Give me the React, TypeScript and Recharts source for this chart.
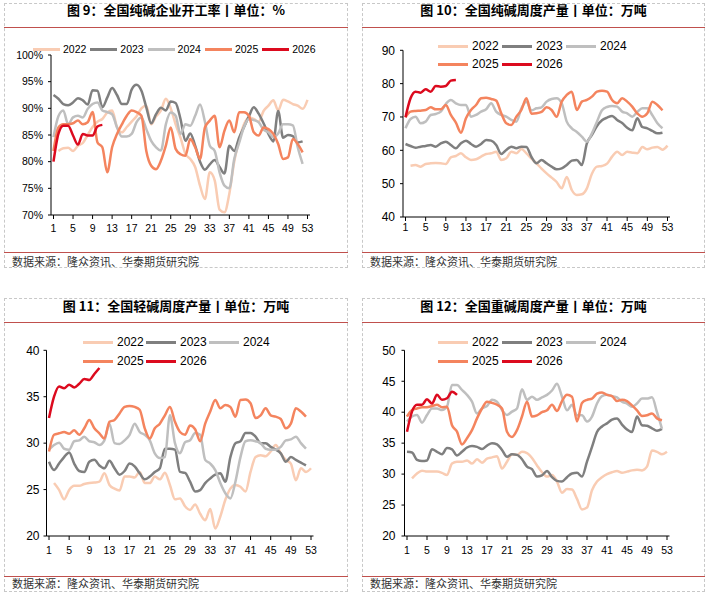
import React from 'react';
import { LineChart, Line, XAxis, YAxis } from 'recharts';

const FONT_NUM = '"Liberation Sans", Arial, sans-serif';
const FONT_CJK = '"Noto Sans CJK SC", "Noto Sans", sans-serif';

// ---------- categories ----------
const weeks = Array.from({ length: 53 }, (_, i) => i + 1);
const seriesYears = ['2022', '2023', '2024', '2025', '2026'];
const seriesColors = ['#F9CCB3', '#7F7F7F', '#BFBFBF', '#F4845E', '#DC0A1E'];

// ---------- 图9 开工率 (%) ----------
const p1_2022 = [null, 82, 82.5, 82.6, 82, 83, 83.5, 85, 86.5, 87.5, 88, 89.2, 89.6, 86.5, 85.5, 86.5, 87.5, 88.5, 90, 90.5, 87, 88.5, 89.6, 91.8, 90, 87, 84.5, 81.5, 80.5, 79, 75.5, 73, 78, 76.5, 71, 70.5, 74, 80, 84, 87, 88.3, 88, 87.5, 89.5, 90.5, 91.5, 89.6, 91.6, 91.3, 90.8, 90.5, 89.9, 91.6];
const p1_2023 = [92.5, 91.8, 90.8, 90.6, 91.1, 91.9, 91.5, 90.7, 93.4, 93.3, 90.2, 92, 93.8, 92.5, 90.8, 90.8, 93.5, 94.4, 93.3, 90.2, 87.2, 88.9, 90.1, 89.6, 91.3, 91, 88, 83.9, 85.3, 83, 80, 78.5, 79.5, 80.3, 79, 77.8, 83, 82, 84.5, 86.5, 88.5, 90.2, 89, 87.2, 85.2, 83.8, 89.5, 84.5, 85, 84.8, 83.6, 83.8];
const p1_2024 = [84.6, 88.5, 89.6, 87, 88.3, 88.6, 88.3, 89.9, 90.8, 91.1, 89.6, 89.3, 88.9, 86.4, 84.7, 84.7, 85.2, 87.4, 88.3, 86.1, 83.9, 82.7, 82.1, 87, 89.2, 88.6, 85.2, 87, 86.75, 88.6, 90.7, 87.5, 83, 82, 78, 75.5, 75, 80.5, 83.5, 86.5, 88, 87.8, 87.4, 86, 85.5, 84.6, 85.3, 87, 87, 86.8, 82.7, 79.6];
const p1_2025 = [82, 86.4, 87, 87, 87.2, 87.7, 87, 87.4, 89.3, 83.6, 82.7, 78, 82.7, 85.2, 87, 88.6, 89.6, 89.3, 88.6, 82, 79.25, 78.6, 80.2, 83, 86.4, 82.4, 81.4, 81.1, 84.25, 82.7, 80.5, 86.4, 87.7, 88.6, 82.7, 85.8, 87.7, 85.5, 89.25, 89.25, 88.6, 85.5, 84.9, 86.4, 86.1, 85.2, 83.3, 80.5, 80.8, 84.25, 83.3, 81.75];
const p1_2026 = [80, 85.2, 86.75, 86.75, 84.9, 83.2, 85.2, 84.9, 84.9, 86.6, 86.9];
const p1_ticks = [70, 75, 80, 85, 90, 95, 100];

// ---------- 图10 纯碱周度产量 (万吨) ----------
const p2_2022 = [null, 55.4, 55.6, 55.1, 55.9, 56.1, 56.2, 56.1, 55.9, 57.9, 58.3, 59.1, 57.9, 57.1, 57.3, 58.1, 58.9, 59.1, 59.6, 57.1, 57.6, 59.6, 59.1, 60.4, 59.1, 57.5, 56.1, 54.5, 53.1, 51.8, 50.5, 48.6, 52, 48.1, 46.6, 46.8, 48.6, 53, 55.1, 55.3, 56, 58.1, 59.6, 58.6, 59.6, 59.3, 59.1, 61, 60.3, 60.8, 61, 60.2, 61.4];
const p2_2023 = [61.9, 61.3, 60.8, 61.1, 61.3, 61.6, 61.1, 62.1, 62.6, 61.6, 60.6, 62.1, 62.9, 61.9, 61.1, 61.9, 63.1, 62.9, 61.6, 58.9, 60.1, 61.1, 60.6, 61.1, 61, 58, 56.1, 57.1, 56.1, 55.1, 54.3, 54.6, 55.6, 56.9, 57.1, 55.6, 62.1, 64.6, 67.3, 69, 69.8, 70.3, 69.1, 68.2, 66.8, 66, 69.6, 67, 66.6, 65.8, 65.1, 65.3];
const p2_2024 = [66.6, 69.4, 70.1, 68.1, 68.6, 70.6, 70.9, 71.6, 73.9, 75.1, 74.1, 73.6, 73.6, 70.1, 70.6, 71.6, 72.3, 74.1, 71.6, 70.6, 70.1, 69.1, 68.6, 72.6, 74.6, 72, 72.6, 72.9, 74.6, 75.4, 75.6, 74.1, 68.6, 66.6, 65.5, 64.1, 62.6, 65.1, 68.6, 72, 73, 73.3, 73.1, 71.6, 71.1, 70.1, 71.5, 72.6, 72.6, 70.5, 68.1, 66.6];
const p2_2025 = [69.9, 71.6, 71.8, 71.9, 72.1, 72.9, 72.3, 72.3, 73.6, 70.6, 68.3, 65.3, 69.6, 72.1, 73.6, 75.6, 75.8, 75.4, 74.9, 71.1, 68.1, 67.6, 70.1, 72.1, 75.6, 71, 71.1, 71.5, 72.9, 72.1, 70.1, 74.6, 76.6, 77.6, 72.1, 74.6, 75.1, 76.1, 77.6, 77.9, 77.6, 75.1, 74.1, 75.6, 74.6, 73.1, 71.1, 70.1, 71.1, 74.6, 73.6, 72];
const p2_2026 = [69.9, 75.6, 77.6, 77.3, 78.3, 77.6, 79.3, 79.1, 79.3, 80.9, 81.1];
const p2_ticks = [40, 50, 60, 70, 80, 90];

// ---------- 图11 轻碱周度产量 (万吨) ----------
const p3_2022 = [null, 25.7, 24.96, 23.95, 24.96, 25.4, 25.4, 25.6, 25.7, 25.75, 25.85, 26.75, 25.5, 25.1, 24.9, 26.4, 26.4, 26.3, 26.9, 25.7, 25.7, 26.4, 26.1, 26.8, 25.5, 23.95, 24.05, 23.2, 22.8, 23.4, 22.4, 21.7, 22.9, 20.8, 22.1, 23.9, 25.1, 25.5, 25.3, 24.8, 26.9, 28.5, 28.7, 28.6, 29.1, 29.8, 28.9, 28.2, 27.8, 26, 27.3, 26.9, 27.3];
const p3_2023 = [28, 27.1, 27.8, 28.5, 29, 27.8, 27, 26.9, 28, 28.2, 27.6, 27.3, 28.1, 27.3, 26.6, 27, 27.8, 27.5, 26.75, 26.1, 26.4, 26.9, 27.3, 29.4, 29.4, 29.3, 26.9, 26.8, 25.85, 24.8, 24.95, 25.7, 26.2, 26.6, 26.75, 25.85, 28.5, 30, 30.2, 31.1, 31.1, 30.7, 30, 30, 29.6, 29.3, 28.9, 28, 28.5, 28.2, 27.9, 27.6];
const p3_2024 = [29.3, 29.8, 30.05, 29.4, 29.3, 30.2, 30.3, 30.7, 30.2, 30.1, 29.8, 30.3, 32.1, 30, 29.9, 30.3, 30.9, 32.1, 31.2, 30.9, 30.3, 28.9, 28.4, 28.5, 33, 30, 28.9, 30.1, 30.3, 31.1, 30.9, 28.2, 27.8, 27.1, 25.7, 24.6, 24.05, 25.85, 28.5, 30.2, 30.3, 30.2, 30, 29.4, 29.3, 29.3, 29.6, 30.3, 30.4, 30.7, 30, 29.4];
const p3_2025 = [29.1, 30.9, 31.06, 31.2, 31, 31.4, 30.9, 31.6, 32.5, 31.6, 31.06, 30.5, 32.3, 32.5, 33.2, 33.9, 34, 33.9, 33.6, 31.6, 30.5, 31.6, 32.1, 33, 33.9, 32.3, 31.2, 30.9, 31.9, 31.5, 30.2, 32.1, 33.4, 34.65, 33.75, 34.1, 33.9, 32.85, 34.65, 34.7, 34.3, 32.7, 33, 33.75, 33, 32.85, 32.6, 31.6, 32.1, 33.75, 33.4, 32.85];
const p3_2026 = [32.7, 35, 36.1, 35.9, 36.3, 36, 36.4, 36.9, 36.8, 37.45, 38.1];
const p3_ticks = [20, 25, 30, 35, 40];

// ---------- 图12 重碱周度产量 (万吨) ----------
const p4_2022 = [null, 29.3, 30.1, 30.55, 30.4, 30.4, 30.4, 30.2, 29.85, 31.7, 32, 32, 32.2, 31.7, 32.4, 31.85, 32.5, 32.7, 32.9, 30.9, 32, 33.2, 33.1, 33.6, 33.4, 32.6, 31.4, 30.3, 29.6, 29.85, 28.8, 27, 27.6, 27.5, 26, 24.3, 24.6, 27.4, 28.8, 29.5, 30, 30.3, 30.5, 30.2, 30.4, 30.6, 30.7, 30.6, 31.2, 33.8, 33.6, 33.2, 33.6];
const p4_2023 = [33.6, 33.5, 32.3, 32.1, 32.2, 34, 33.6, 33.2, 34.2, 34, 33, 33.6, 34.3, 34.55, 34.4, 34.05, 34.6, 35, 34.8, 33.9, 32.8, 33.2, 33.1, 32.4, 31.2, 30.8, 29.6, 29.8, 30.5, 29.5, 28.9, 28.8, 29.5, 30.1, 30.2, 29.6, 32, 34.4, 36.8, 37.7, 38.2, 38.8, 39, 38, 37.2, 36.8, 39.3, 37.9, 37.8, 37.4, 37, 37.3];
const p4_2024 = [38.5, 39.3, 39.55, 38.3, 39.55, 40.6, 40.6, 40.35, 40.9, 44.4, 44.4, 43.6, 42.8, 41.7, 39.8, 40.6, 41, 42, 41.7, 40.35, 39.55, 40.1, 40.6, 43.7, 42, 42.5, 42, 42.4, 42.8, 43.5, 44.6, 42.5, 40.3, 41.2, 39.5, 39.5, 38.5, 39.3, 41.4, 42.6, 42.8, 42.6, 42.4, 41.7, 41.4, 40.9, 41.4, 42.2, 42.2, 42.4, 40, 37.3];
const p4_2025 = [39.3, 40.35, 40.6, 40.8, 40.8, 41, 41.2, 40.8, 40.9, 37.9, 36.85, 34.8, 35.8, 37.1, 39, 40.6, 41.7, 41.5, 41.2, 40.6, 36.85, 36, 37.1, 39.3, 41.7, 39.3, 39.5, 40, 40.3, 41.2, 40.2, 41.8, 42.8, 42.5, 38.5, 41.5, 42, 42.2, 43, 43.2, 42.8, 42.6, 41.8, 42, 41.8, 41.1, 40.3, 39.4, 39.5, 39.8, 39, 38.7];
const p4_2026 = [36.85, 40.1, 41.2, 41.2, 42.1, 41.4, 42.8, 42, 42.25, 43.3, 42.8];
const p4_ticks = [20, 25, 30, 35, 40, 45, 50];

// ---------- titles ----------
const titles = [
  '图 9：全国纯碱企业开工率丨单位：%',
  '图 10：全国纯碱周度产量丨单位：万吨',
  '图 11：全国轻碱周度产量丨单位：万吨',
  '图 12：全国重碱周度产量丨单位：万吨',
];
const sourceText = '数据来源：隆众资讯、华泰期货研究院';

function buildRows(series: (number | null)[][]) {
  return weeks.map((w, i) => {
    const row: Record<string, number | null> = { week: w };
    series.forEach((s, k) => {
      const v = s[i];
      row['y' + seriesYears[k]] = v === undefined || v === null ? null : v;
    });
    return row;
  });
}

type Cfg = {
  rows: any[];
  domain: [number, number];
  ticks: number[];
  fmt?: (v: number) => string;
  chart: { left: number; top: number; width: number; height: number };
  plot: { x0: number; x1: number; y0: number; y1: number };
  yFont: number;
  xFont: number;
  yTickSize: number;
  yTickMargin: number;
  xTickMargin: number;
  legend: { x: number; y: number; colW: number; rowH: number; cols: number; font: number; gap: number; len: number };
};

const Y_W = 40;
const X_H = 30;

function ChartPanel({ cfg }: { cfg: Cfg }) {
  const { chart, plot } = cfg;
  const margin = {
    left: plot.x0 - chart.left - Y_W,
    right: chart.left + chart.width - plot.x1,
    top: plot.y0 - chart.top,
    bottom: chart.top + chart.height - plot.y1 - X_H,
  };
  return (
    <div style={{ position: 'absolute', left: chart.left, top: chart.top }}>
      <LineChart width={chart.width} height={chart.height} data={cfg.rows} margin={margin}>
        <XAxis
          dataKey="week"
          type="category"
          scale="point"
          interval={3}
          padding={{ left: 2.5, right: 2.5 }}
          height={X_H}
          axisLine={{ stroke: '#000', strokeWidth: 1 }}
          tickLine={{ stroke: '#000', strokeWidth: 1 }}
          tickSize={4}
          tickMargin={cfg.xTickMargin}
          tick={{ fill: '#000', fontSize: cfg.xFont, fontFamily: FONT_NUM }}
        />
        <YAxis
          type="number"
          domain={cfg.domain}
          ticks={cfg.ticks}
          interval={0}
          width={Y_W}
          axisLine={{ stroke: '#000', strokeWidth: 1 }}
          tickLine={{ stroke: '#000', strokeWidth: 1 }}
          tickSize={cfg.yTickSize}
          tickMargin={cfg.yTickMargin}
          tickFormatter={cfg.fmt}
          tick={{ fill: '#000', fontSize: cfg.yFont, fontFamily: FONT_NUM }}
        />
        {seriesYears.map((yr, k) => (
          <Line
            key={yr}
            dataKey={'y' + yr}
            type="monotone"
            stroke={seriesColors[k]}
            strokeWidth={2.5}
            dot={false}
            activeDot={false}
            connectNulls={false}
            isAnimationActive={false}
          />
        ))}
      </LineChart>
    </div>
  );
}

function LegendBox({ cfg }: { cfg: Cfg }) {
  const L = cfg.legend;
  return (
    <>
      {seriesYears.map((yr, k) => {
        const c = k % L.cols;
        const r = Math.floor(k / L.cols);
        const lx = L.x + c * L.colW;
        const ly = L.y + r * L.rowH;
        return (
          <React.Fragment key={yr}>
            <div style={{ position: 'absolute', left: lx, top: ly - 1.5, width: L.len, height: 3, background: seriesColors[k] }} />
            <div
              style={{
                position: 'absolute',
                left: lx + L.len + L.gap,
                top: ly - 8,
                lineHeight: '16px',
                fontSize: L.font,
                fontFamily: FONT_NUM,
                color: '#000',
                whiteSpace: 'nowrap',
              }}
            >
              {yr}
            </div>
          </React.Fragment>
        );
      })}
    </>
  );
}

const cfgs: Cfg[] = [
  {
    rows: buildRows([p1_2022, p1_2023, p1_2024, p1_2025, p1_2026]),
    domain: [70, 100],
    ticks: p1_ticks,
    fmt: (v: number) => v + '%',
    chart: { left: 4, top: 30, width: 344, height: 220 },
    plot: { x0: 51, x1: 310, y0: 55, y1: 215 },
    yFont: 10.5,
    xFont: 10.5,
    yTickSize: 3,
    yTickMargin: 5,
    xTickMargin: 6,
    legend: { x: 33, y: 49, colW: 57.3, rowH: 18, cols: 5, font: 10.5, gap: 3, len: 27 },
  },
  {
    rows: buildRows([p2_2022, p2_2023, p2_2024, p2_2025, p2_2026]),
    domain: [40, 90],
    ticks: p2_ticks,
    chart: { left: 362, top: 30, width: 343, height: 220 },
    plot: { x0: 403, x1: 670, y0: 50.3, y1: 217 },
    yFont: 12,
    xFont: 10.5,
    yTickSize: 3,
    yTickMargin: 5,
    xTickMargin: 3,
    legend: { x: 438, y: 46, colW: 64, rowH: 18, cols: 3, font: 12, gap: 4, len: 30 },
  },
  {
    rows: buildRows([p3_2022, p3_2023, p3_2024, p3_2025, p3_2026]),
    domain: [20, 40],
    ticks: p3_ticks,
    chart: { left: 4, top: 325, width: 344, height: 250 },
    plot: { x0: 46.5, x1: 313.5, y0: 350.3, y1: 536 },
    yFont: 12,
    xFont: 10.5,
    yTickSize: 3,
    yTickMargin: 4,
    xTickMargin: 7,
    legend: { x: 83, y: 342, colW: 63, rowH: 19, cols: 3, font: 12, gap: 4, len: 30 },
  },
  {
    rows: buildRows([p4_2022, p4_2023, p4_2024, p4_2025, p4_2026]),
    domain: [20, 50],
    ticks: p4_ticks,
    chart: { left: 362, top: 325, width: 343, height: 250 },
    plot: { x0: 404.5, x1: 669.5, y0: 350.3, y1: 536 },
    yFont: 12,
    xFont: 10.5,
    yTickSize: 3,
    yTickMargin: 6,
    xTickMargin: 7,
    legend: { x: 438, y: 342, colW: 64, rowH: 19, cols: 3, font: 12, gap: 4, len: 30 },
  },
];

const boxes = [
  { left: 4, top: 3, width: 344, height: 265, titleY: 10, redTop: 27, redBottom: 252, srcY: 261, srcX: 12 },
  { left: 362, top: 3, width: 343, height: 265, titleY: 10, redTop: 27, redBottom: 252, srcY: 261, srcX: 370 },
  { left: 4, top: 298, width: 344, height: 294, titleY: 306, redTop: 322, redBottom: 576, srcY: 583, srcX: 12 },
  { left: 362, top: 298, width: 343, height: 294, titleY: 306, redTop: 322, redBottom: 576, srcY: 583, srcX: 370 },
];

export default function App() {
  return (
    <div style={{ position: 'absolute', left: 0, top: 0, width: 707, height: 598, background: '#fff', overflow: 'hidden' }}>
      {boxes.map((b, i) => (
        <React.Fragment key={'box' + i}>
          <div
            style={{
              position: 'absolute',
              left: b.left,
              top: b.top,
              width: b.width,
              height: b.height,
              border: '1px dashed #C8C8C8',
              boxSizing: 'border-box',
            }}
          />
          <div
            style={{
              position: 'absolute',
              left: b.left,
              width: b.width,
              top: b.titleY - 9,
              lineHeight: '18px',
              textAlign: 'center',
              fontSize: 13,
              fontWeight: 700,
              fontFamily: FONT_CJK,
              color: '#000',
              whiteSpace: 'nowrap',
            }}
          >
            {titles[i]}
          </div>
          <div style={{ position: 'absolute', left: b.left, width: b.width, top: b.redTop - 0.5, height: 1.2, background: '#C0504D' }} />
          <div style={{ position: 'absolute', left: b.left, width: b.width, top: b.redBottom - 0.5, height: 1.2, background: '#C0504D' }} />
          <div
            style={{
              position: 'absolute',
              left: b.srcX,
              top: b.srcY - 8,
              lineHeight: '16px',
              fontSize: 11,
              fontFamily: FONT_CJK,
              color: '#333',
              whiteSpace: 'nowrap',
            }}
          >
            {sourceText}
          </div>
        </React.Fragment>
      ))}
      {cfgs.map((c, i) => (
        <React.Fragment key={'chart' + i}>
          <ChartPanel cfg={c} />
          <LegendBox cfg={c} />
        </React.Fragment>
      ))}
    </div>
  );
}
